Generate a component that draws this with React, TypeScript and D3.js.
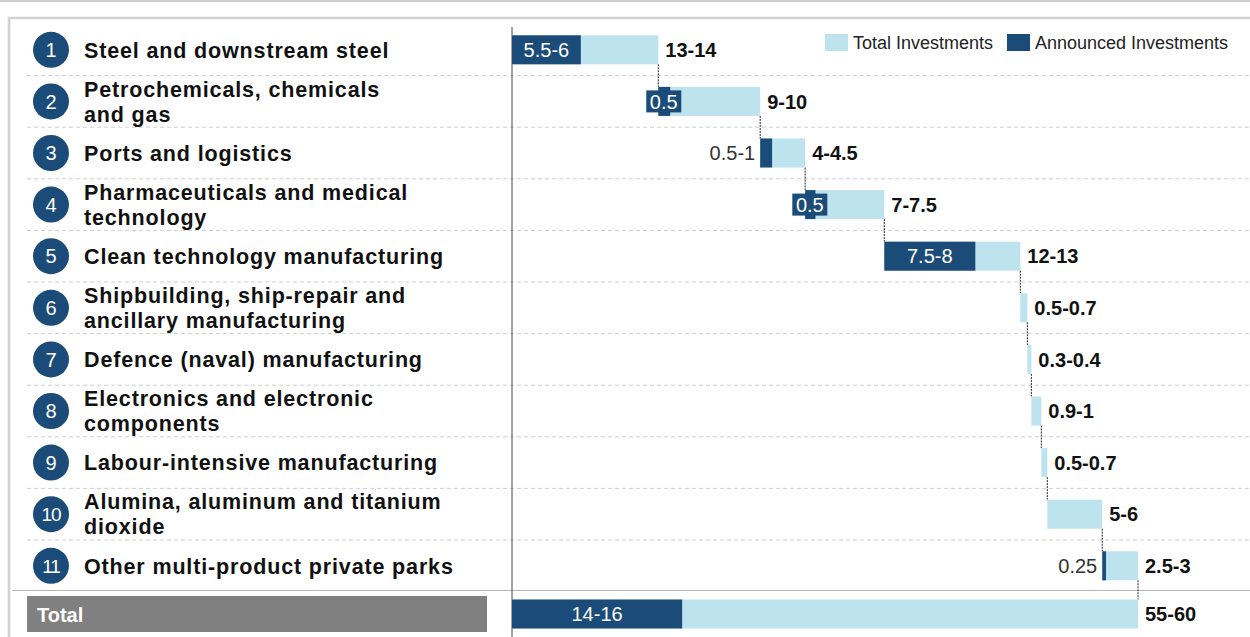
import React from "react";
import * as d3 from "d3";

const categories: string[][] = [
  ["Steel and downstream steel"],
  ["Petrochemicals, chemicals", "and gas"],
  ["Ports and logistics"],
  ["Pharmaceuticals and medical", "technology"],
  ["Clean technology manufacturing"],
  ["Shipbuilding, ship-repair and", "ancillary manufacturing"],
  ["Defence (naval) manufacturing"],
  ["Electronics and electronic", "components"],
  ["Labour-intensive manufacturing"],
  ["Alumina, aluminum and titanium", "dioxide"],
  ["Other multi-product private parks"],
];
// bar lengths as drawn (USD bn)
const totalValues = [13.5, 9.4, 4.15, 7.3, 12.55, 0.65, 0.37, 0.92, 0.55, 5.07, 3.3];
const announcedValues = [6.35, 1.1, 1.1, 0.95, 8.4, 0, 0, 0, 0, 0, 0.35];
const grandAnnouncedValue = 15.7;
const totalLabels = ["13-14", "9-10", "4-4.5", "7-7.5", "12-13", "0.5-0.7", "0.3-0.4", "0.9-1", "0.5-0.7", "5-6", "2.5-3"];
const announcedLabels = ["5.5-6", "0.5", "0.5-1", "0.5", "7.5-8", "", "", "", "", "", "0.25"];
// how each announced label is shown: inside bar, boxed, or outside left
const announcedLabelStyle = ["inside", "box", "left", "box", "inside", "", "", "", "", "", "left"];
const grandTotalLabel = "55-60";
const grandAnnouncedLabel = "14-16";
const legendItems = ["Total Investments", "Announced Investments"];

const LIGHT = "#bde3ee";
const DARK = "#1b4b79";
const FONT = "'Liberation Sans', Arial, sans-serif";

export default function App() {
  const W = 1250, H = 637;
  const sumTotal = d3.sum(totalValues);
  const x = d3.scaleLinear().domain([0, sumTotal]).range([512, 1138]);
  const y = d3.scaleBand<number>().domain(d3.range(categories.length)).range([24, 591.6]);
  const step = y.step();
  const barH = 29;
  const starts: number[] = [];
  let acc = 0;
  totalValues.forEach((v) => { starts.push(acc); acc += v; });
  const totalCy = 614;
  const vf = 20;

  return (
    <svg width={W} height={H} style={{ position: "absolute", left: 0, top: 0, background: "#fff" }} fontFamily={FONT}>
      <rect x={0} y={0} width={W} height={H} fill="#fff" />
      {/* frame */}
      <line x1={0} x2={W} y1={1} y2={1} stroke="#cfcfcf" strokeWidth={2} />
      <line x1={8} x2={W} y1={18} y2={18} stroke="#d2d2d2" strokeWidth={2.5} />
      <line x1={9} x2={9} y1={17} y2={H} stroke="#d2d2d2" strokeWidth={2.5} />
      {/* row separators */}
      {d3.range(1, categories.length).map((i) => (
        <line key={i} x1={27} x2={W} y1={y(i)!} y2={y(i)!} stroke="#cfcfcf" strokeWidth={1} strokeDasharray="4,3" />
      ))}
      <line x1={12} x2={W} y1={590.5} y2={590.5} stroke="#b5b5b5" strokeWidth={1} />
      {/* axis line */}
      <line x1={512} x2={512} y1={27} y2={H} stroke="#444" strokeWidth={1} />
      {/* category labels */}
      {categories.map((lines, i) => {
        const cy = y(i)! + step / 2;
        return (
          <g key={i}>
            <circle cx={51} cy={cy} r={18} fill={DARK} />
            <text x={51} y={cy} dy="0.36em" textAnchor="middle" fill="#fff" fontSize={i >= 9 ? 19 : 20} letterSpacing={i >= 9 ? -1 : 0}>{i + 1}</text>
            {lines.map((t, j) => (
              <text key={j} x={84} y={cy + (lines.length === 1 ? 0 : j === 0 ? -12.5 : 12.5)} dy="0.36em" fontSize={21.5} fontWeight="bold" fill="#111" letterSpacing={0.85}>{t}</text>
            ))}
          </g>
        );
      })}
      {/* connectors */}
      {totalValues.map((v, i) => {
        const cx = x(starts[i] + v);
        const y1 = y(i)! + step / 2 + barH / 2;
        const y2 = i < categories.length - 1 ? y(i + 1)! + step / 2 - barH / 2 : totalCy - barH / 2;
        return <line key={i} x1={cx} x2={cx} y1={y1} y2={y2} stroke="#222" strokeWidth={1} strokeDasharray="2,1" />;
      })}
      {/* bars */}
      {totalValues.map((v, i) => {
        const cy = y(i)! + step / 2;
        const x0 = x(starts[i]);
        const x1 = x(starts[i] + v);
        const xa = x(starts[i] + announcedValues[i]);
        const st = announcedLabelStyle[i];
        return (
          <g key={i}>
            <rect x={x0} y={cy - barH / 2} width={x1 - x0} height={barH} fill={LIGHT} />
            {announcedValues[i] > 0 && <rect x={x0} y={cy - barH / 2} width={xa - x0} height={barH} fill={DARK} />}
            {st === "inside" && (
              <text x={(x0 + xa) / 2} y={cy} dy="0.36em" textAnchor="middle" fill="#fff" fontSize={vf}>{announcedLabels[i]}</text>
            )}
            {st === "box" && (
              <g>
                <rect x={(x0 + xa) / 2 - 18} y={cy - 11} width={35} height={22} fill={DARK} />
                <text x={(x0 + xa) / 2 - 0.5} y={cy} dy="0.36em" textAnchor="middle" fill="#fff" fontSize={vf}>{announcedLabels[i]}</text>
              </g>
            )}
            {st === "left" && (
              <text x={x0 - 5} y={cy} dy="0.36em" textAnchor="end" fill="#333" fontSize={vf}>{announcedLabels[i]}</text>
            )}
            <text x={x1 + 7} y={cy} dy="0.36em" fill="#111" fontSize={vf} fontWeight="bold">{totalLabels[i]}</text>
          </g>
        );
      })}
      {/* total row */}
      <rect x={27} y={596} width={460} height={36} fill="#808080" />
      <text x={37} y={totalCy + 1} dy="0.36em" fill="#fff" fontSize={20} fontWeight="bold">Total</text>
      <rect x={x(0)} y={totalCy - barH / 2} width={x(sumTotal) - x(0)} height={barH} fill={LIGHT} />
      <rect x={x(0)} y={totalCy - barH / 2} width={x(grandAnnouncedValue) - x(0)} height={barH} fill={DARK} />
      <text x={(x(0) + x(grandAnnouncedValue)) / 2} y={totalCy} dy="0.36em" textAnchor="middle" fill="#fff" fontSize={vf}>{grandAnnouncedLabel}</text>
      <text x={x(sumTotal) + 7} y={totalCy} dy="0.36em" fill="#111" fontSize={vf} fontWeight="bold">{grandTotalLabel}</text>
      {/* legend */}
      <rect x={825} y={34} width={23} height={17} fill={LIGHT} />
      <text x={853} y={43} dy="0.36em" fontSize={18} fill="#222">{legendItems[0]}</text>
      <rect x={1007} y={34} width={23} height={17} fill={DARK} />
      <text x={1035} y={43} dy="0.36em" fontSize={18} fill="#222">{legendItems[1]}</text>
    </svg>
  );
}
